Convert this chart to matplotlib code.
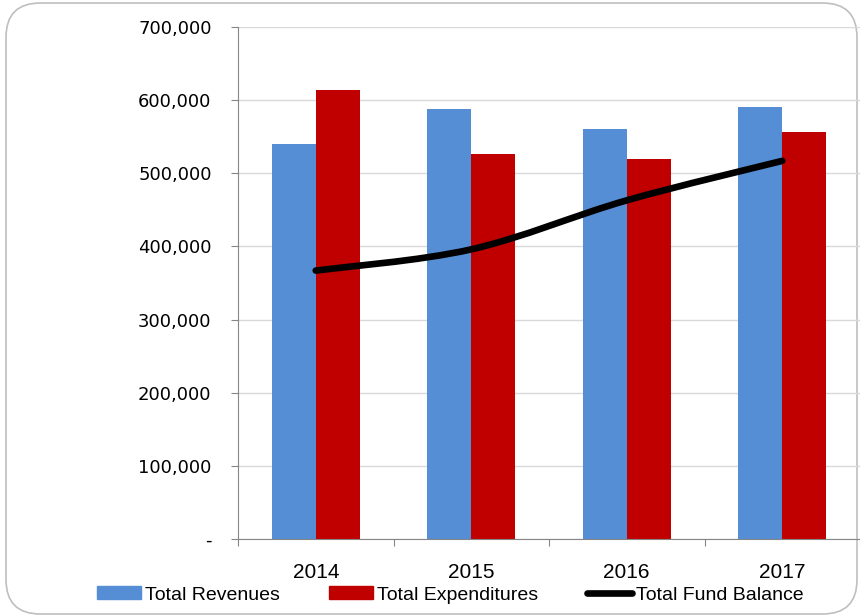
import matplotlib as mpl
mpl.use('Agg')
import matplotlib.pyplot as plt
import matplotlib.lines as mlines
import matplotlib.patches as mpatches
from matplotlib.path import Path
from matplotlib.ticker import FuncFormatter

years = ['2014', '2015', '2016', '2017']
revenues = [540000, 588000, 560000, 590000]
expenditures = [614000, 527000, 520000, 557000]
fund_balance = [367000, 396000, 463000, 517000]

blue = '#558ED5'
red = '#C00000'
sans = ['Liberation Sans', 'DejaVu Sans']

fig = plt.figure(figsize=(8.6, 6.16), dpi=100)

# rounded chart border
border = mpatches.FancyBboxPatch((6 / 860, 2 / 616), 851 / 860, 611 / 616,
                                 boxstyle='round,pad=0,rounding_size=0.04',
                                 transform=fig.transFigure, facecolor='white',
                                 edgecolor='#BFBFBF', linewidth=1.2,
                                 mutation_aspect=860 / 616, zorder=-5)
fig.patches.append(border)

ax = fig.add_axes([238 / 860, 77 / 616, 622 / 860, 512 / 616])
ax.patch.set_alpha(0)

x = list(range(len(years)))
w = 0.283
ax.bar([i - w / 2 for i in x], revenues, w, color=blue, zorder=2)
ax.bar([i + w / 2 for i in x], expenditures, w, color=red, zorder=2)

# smoothed line (Excel style bezier through the data points)
pts = list(zip(x, fund_balance))
verts = [pts[0]]
codes = [Path.MOVETO]
for i in range(len(pts) - 1):
    p0 = pts[i - 1] if i > 0 else pts[i]
    p1 = pts[i]
    p2 = pts[i + 1]
    p3 = pts[i + 2] if i + 2 < len(pts) else pts[i + 1]
    c1 = (p1[0] + (p2[0] - p0[0]) / 6, p1[1] + (p2[1] - p0[1]) / 6)
    c2 = (p2[0] - (p3[0] - p1[0]) / 6, p2[1] - (p3[1] - p1[1]) / 6)
    verts += [c1, c2, p2]
    codes += [Path.CURVE4] * 3
line = mpatches.PathPatch(Path(verts, codes), facecolor='none', edgecolor='black',
                          linewidth=4.8, capstyle='round', joinstyle='round', zorder=3)
ax.add_patch(line)

ax.set_xlim(-0.5, 3.5)
ax.set_ylim(0, 700000)
ax.set_yticks(range(0, 700001, 100000))
ax.yaxis.set_major_formatter(FuncFormatter(lambda v, p: '-' if v == 0 else f'{int(v):,}'))
ax.grid(axis='y', color='#D9D9D9', linewidth=1, zorder=0)
ax.set_axisbelow(True)

for s in ['top', 'right']:
    ax.spines[s].set_visible(False)
for s in ['left', 'bottom']:
    ax.spines[s].set_color('#868686')

ax.set_xticks([-0.5, 0.5, 1.5, 2.5, 3.5])
ax.set_xticklabels([])
ax.set_xticks(x, minor=True)
ax.set_xticklabels(years, minor=True, fontsize=15, family=sans)
ax.tick_params(axis='x', which='major', length=5, color='#868686', direction='out')
ax.tick_params(axis='x', which='minor', length=0, pad=17)
ax.tick_params(axis='y', length=5, color='#868686', labelsize=13, pad=14)

rev_leg = mpatches.Patch(color=blue, label='Total Revenues')
exp_leg = mpatches.Patch(color=red, label='Total Expenditures')
bal_leg = mlines.Line2D([], [], color='black', linewidth=4.8,
                        solid_capstyle='round', label='Total Fund Balance')
fig.legend(handles=[rev_leg, exp_leg, bal_leg], loc='center', ncol=3,
           bbox_to_anchor=(450 / 860, 1 - 595 / 616), frameon=False,
           prop={'family': sans, 'size': 14}, handlelength=2.3,
           handleheight=0.6, handletextpad=0.2, columnspacing=2.5,
           borderpad=0, borderaxespad=0)

fig.savefig('out.png', dpi=100)
